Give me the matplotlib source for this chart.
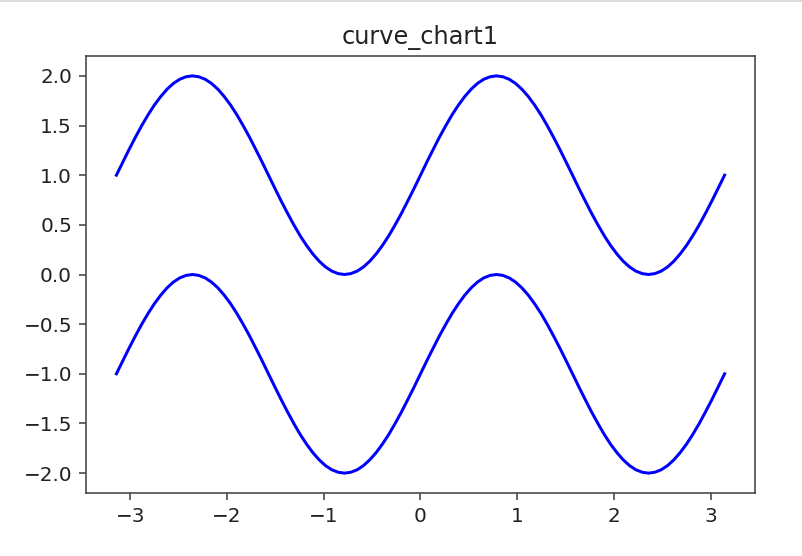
import matplotlib
matplotlib.use("Agg")
import matplotlib.pyplot as plt
from matplotlib.lines import Line2D

# sample points
x = [-3.142, -3.076, -3.011, -2.945, -2.880, -2.814, -2.749, -2.683, -2.618, -2.553,
     -2.487, -2.422, -2.356, -2.291, -2.225, -2.160, -2.094, -2.029, -1.963, -1.898,
     -1.833, -1.767, -1.702, -1.636, -1.571, -1.505, -1.440, -1.374, -1.309, -1.244,
     -1.178, -1.113, -1.047, -0.982, -0.916, -0.851, -0.785, -0.720, -0.654, -0.589,
     -0.524, -0.458, -0.393, -0.327, -0.262, -0.196, -0.131, -0.065, 0.000,
     0.065, 0.131, 0.196, 0.262, 0.327, 0.393, 0.458, 0.524, 0.589, 0.654,
     0.720, 0.785, 0.851, 0.916, 0.982, 1.047, 1.113, 1.178, 1.244, 1.309,
     1.374, 1.440, 1.505, 1.571, 1.636, 1.702, 1.767, 1.833, 1.898, 1.963,
     2.029, 2.094, 2.160, 2.225, 2.291, 2.356, 2.422, 2.487, 2.553, 2.618,
     2.683, 2.749, 2.814, 2.880, 2.945, 3.011, 3.076, 3.142]

y_upper = [1.000, 1.131, 1.259, 1.383, 1.500, 1.609, 1.707, 1.793, 1.866, 1.924,
           1.966, 1.991, 2.000, 1.991, 1.966, 1.924, 1.866, 1.793, 1.707, 1.609,
           1.500, 1.383, 1.259, 1.131, 1.000, 0.869, 0.741, 0.617, 0.500, 0.391,
           0.293, 0.207, 0.134, 0.076, 0.034, 0.009, 0.000, 0.009, 0.034, 0.076,
           0.134, 0.207, 0.293, 0.391, 0.500, 0.617, 0.741, 0.869,
           1.000, 1.131, 1.259, 1.383, 1.500, 1.609, 1.707, 1.793, 1.866, 1.924,
           1.966, 1.991, 2.000, 1.991, 1.966, 1.924, 1.866, 1.793, 1.707, 1.609,
           1.500, 1.383, 1.259, 1.131, 1.000, 0.869, 0.741, 0.617, 0.500, 0.391,
           0.293, 0.207, 0.134, 0.076, 0.034, 0.009, 0.000, 0.009, 0.034, 0.076,
           0.134, 0.207, 0.293, 0.391, 0.500, 0.617, 0.741, 0.869, 1.000]

y_lower = [-1.000, -0.869, -0.741, -0.617, -0.500, -0.391, -0.293, -0.207, -0.134, -0.076,
           -0.034, -0.009, 0.000, -0.009, -0.034, -0.076, -0.134, -0.207, -0.293, -0.391,
           -0.500, -0.617, -0.741, -0.869, -1.000, -1.131, -1.259, -1.383, -1.500, -1.609,
           -1.707, -1.793, -1.866, -1.924, -1.966, -1.991, -2.000, -1.991, -1.966, -1.924,
           -1.866, -1.793, -1.707, -1.609, -1.500, -1.383, -1.259, -1.131,
           -1.000, -0.869, -0.741, -0.617, -0.500, -0.391, -0.293, -0.207, -0.134, -0.076,
           -0.034, -0.009, 0.000, -0.009, -0.034, -0.076, -0.134, -0.207, -0.293, -0.391,
           -0.500, -0.617, -0.741, -0.869, -1.000, -1.131, -1.259, -1.383, -1.500, -1.609,
           -1.707, -1.793, -1.866, -1.924, -1.966, -1.991, -2.000, -1.991, -1.966, -1.924,
           -1.866, -1.793, -1.707, -1.609, -1.500, -1.383, -1.259, -1.131, -1.000]

W, H, DPI = 802, 556, 144
fig = plt.figure(figsize=(W / DPI, H / DPI), dpi=DPI)
ax = fig.add_axes([86 / W, 1 - 493 / H, 669 / W, 437 / H])

ax.plot(x, y_upper, color="b", lw=1.5)
ax.plot(x, y_lower, color="b", lw=1.5)
ax.set_title("curve_chart1", fontsize=12, color="#222222")

for s in ax.spines.values():
    s.set_color("#444444")
ax.tick_params(colors="#444444", labelcolor="#222222")

# light border line at the top of the screenshot
fig.add_artist(Line2D([0, 1], [1 - 1 / H, 1 - 1 / H], transform=fig.transFigure,
                      color="#dddddd", lw=1))

fig.savefig("out.png", dpi=DPI)
